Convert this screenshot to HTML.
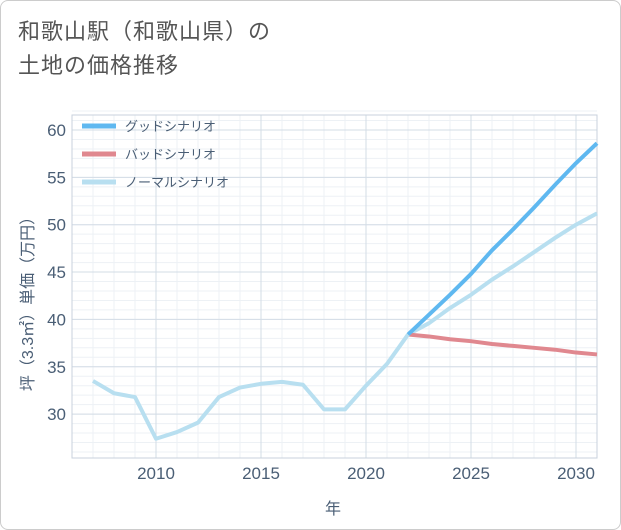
<!DOCTYPE html>
<html><head><meta charset="utf-8"><style>
body{margin:0;background:#fff;font-family:"Liberation Sans","Noto Sans CJK JP",sans-serif;}
#wrap{position:relative;width:619px;height:528px;border:1px solid #ccc;border-radius:8px;overflow:hidden;background:#fff}
.title{position:absolute;left:17px;top:14px;font-size:22px;line-height:34px;color:#555;letter-spacing:1px}
</style></head><body>
<div id="wrap">
<div class="title">和歌山駅（和歌山県）の<br>土地の価格推移</div>
<svg id="chart" width="621" height="530" style="position:absolute;left:-1px;top:-1px"></svg>
</div>
<script>
const years=[2007,2008,2009,2010,2011,2012,2013,2014,2015,2016,2017,2018,2019,2020,2021,2022];
const history=[33.5,32.2,31.8,27.4,28.1,29.1,31.8,32.8,33.2,33.4,33.1,30.5,30.5,33.0,35.3,38.4];
const futureYears=[2022,2023,2024,2025,2026,2027,2028,2029,2030,2031];
const good=[38.4,40.5,42.6,44.8,47.3,49.5,51.8,54.2,56.5,58.6];
const bad=[38.4,38.2,37.9,37.7,37.4,37.2,37.0,36.8,36.5,36.3];
const normal=[38.4,39.6,41.2,42.6,44.2,45.6,47.1,48.6,50.0,51.2];
const xTicks=[2010,2015,2020,2025,2030];
const yTicks=[30,35,40,45,50,55,60];
const NS='http://www.w3.org/2000/svg';
const svg=document.getElementById('chart');
const L=72,R=597,T=115,B=458;
const x=v=>156+(v-2010)*21;
const y=v=>130+(60-v)*9.47;
function el(t,a){const e=document.createElementNS(NS,t);for(const k in a)e.setAttribute(k,a[k]);svg.appendChild(e);return e;}
for(let yr=2007;yr<=2031;yr++){const g=el('line',{x1:x(yr),x2:x(yr),y1:T,y2:B,stroke:'#edf1f5','stroke-width':1});

}
for(let v=26;v<=62;v++){const g=el('line',{x1:L,x2:R,y1:y(v),y2:y(v),stroke:'#edf1f5','stroke-width':1});

}
xTicks.forEach(t=>{const g=el('line',{x1:x(t),x2:x(t),y1:T,y2:B,stroke:'#d3dce6','stroke-width':1});


const tx=el('text',{x:x(t),y:479,'text-anchor':'middle','font-size':17,fill:'#4a5e75'});tx.textContent=t;

});
yTicks.forEach(t=>{const g=el('line',{x1:L,x2:R,y1:y(t),y2:y(t),stroke:'#d3dce6','stroke-width':1});


const tx=el('text',{x:66,y:y(t)+6,'text-anchor':'end','font-size':17,fill:'#4a5e75'});tx.textContent=t;

});
const frame=el('rect',{x:L,y:T,width:R-L,height:B-T,fill:'none',stroke:'#c8d2dc'});


function line(xs,vs,c,name){const p=el('polyline',{points:xs.map((a,i)=>x(a)+','+y(vs[i])).join(' '),fill:'none',stroke:c,'stroke-width':4,'stroke-linejoin':'round'});

}
line(futureYears,normal,'#b8dff0','normal-scenario-line');
line(futureYears,bad,'#e0888f','bad-scenario-line');
line(futureYears,good,'#5fb8f0','good-scenario-line');
line(years,history,'#b8dff0','history-line');
const leg=[['グッドシナリオ','#5fb8f0',126],['バッドシナリオ','#e0888f',154],['ノーマルシナリオ','#b8dff0',182]];
leg.forEach(l=>{const s=el('line',{x1:82,x2:116,y1:l[2],y2:l[2],stroke:l[1],'stroke-width':5});


const t=el('text',{x:125,y:l[2]+5,'font-size':13,fill:'#4a5e75'});t.textContent=l[0];

});
const xt=el('text',{x:333,y:514,'text-anchor':'middle','font-size':16,fill:'#4a5e75'});xt.textContent='年';


const yt=el('text',{x:0,y:0,'text-anchor':'middle','font-size':16,fill:'#4a5e75',transform:'translate(33,300) rotate(-90)'});yt.textContent='坪（3.3㎡）単価（万円）';


</script>
</body></html>
